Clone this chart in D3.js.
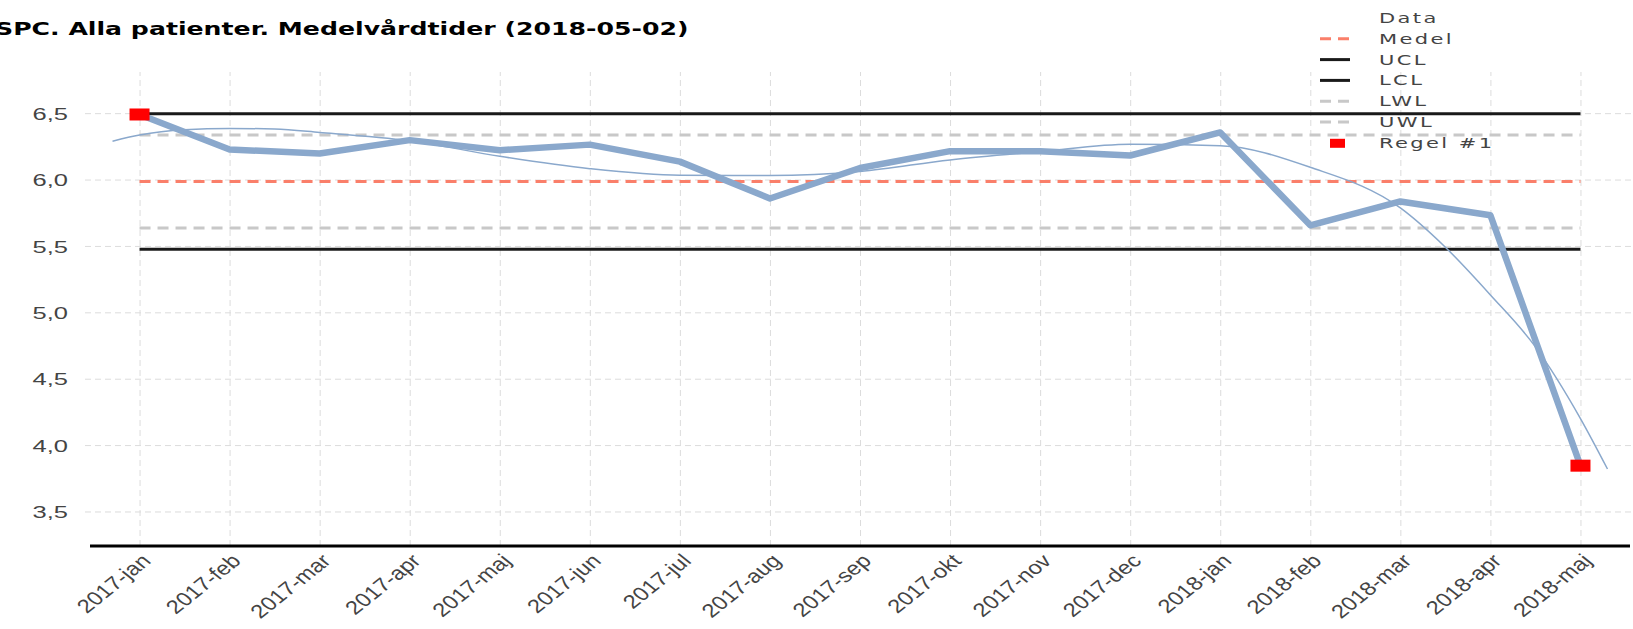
<!DOCTYPE html>
<html>
<head>
<meta charset="utf-8">
<script src="https://cdn.jsdelivr.net/npm/d3@7"></script>
<style>
  body { margin: 0; background: #fff; }
  svg { display: block; font-family: "DejaVu Sans", Verdana, sans-serif; }
</style>
</head>
<body>
<svg id="spc-svg"></svg>
<script>
// data
const months = ["2017-jan", "2017-feb", "2017-mar", "2017-apr", "2017-maj", "2017-jun",
    "2017-jul", "2017-aug", "2017-sep", "2017-okt", "2017-nov", "2017-dec",
    "2018-jan", "2018-feb", "2018-mar", "2018-apr", "2018-maj"];
const values = [6.49, 6.226, 6.196, 6.297, 6.221, 6.263, 6.135, 5.857, 6.087, 6.214,
    6.214, 6.181, 6.355, 5.655, 5.835, 5.731, 3.845];
const rule1 = [1, 0, 0, 0, 0, 0, 0, 0, 0, 0, 0, 0, 0, 0, 0, 0, 1];

// thin trend curve (month index, value)
const trendIdx = [-0.3, 0, 0.5, 1, 1.5, 2, 3, 4, 5, 6, 7, 8, 9, 10, 11, 12, 13, 14, 14.5, 15, 15.5, 16, 16.3];
const trendVals = [6.289, 6.335, 6.375, 6.385, 6.38, 6.355, 6.292, 6.175, 6.082, 6.033, 6.031, 6.061,
    6.148, 6.21, 6.265, 6.255, 6.092, 5.786, 5.49, 5.131, 4.74, 4.2, 3.82];

const medel = 5.985;
const ucl = 6.495;
const lcl = 5.475;
const uwl = 6.335;
const lwl = 5.635;

const yTicks = [3.5, 4.0, 4.5, 5.0, 5.5, 6.0, 6.5];
const legendLabels = ["Data", "Medel", "UCL", "LCL", "LWL", "UWL", "Regel #1"];
const titleText = "SPC. Alla patienter. Medelvårdtider (2018-05-02)";

const width = 1633;
const height = 629;
const K = 1.5;          // horizontal stretch of the text
const lineColor = "#8aa8cc";

const svg = d3.select("#spc-svg").attr("width", width).attr("height", height);

const xScale = d3.scalePoint().domain(months).range([90, 1630]).padding(0.55);
const xIdx = d3.scaleLinear().domain([0, months.length - 1])
    .range([xScale(months[0]), xScale(months[months.length - 1])]);
const yScale = d3.scaleLinear().domain([3.24, 6.81]).range([546, 72]);

const sv = d3.formatLocale({ decimal: ",", thousands: " ", grouping: [3], currency: ["", " kr"] });
const fmt = sv.format(".1f");

// y axis + horizontal grid
const yAxis = svg.append("g")
    .attr("transform", "translate(85,0)")
    .call(d3.axisLeft(yScale).tickValues(yTicks).tickFormat(fmt)
        .tickSize(-(width - 85)).tickSizeOuter(0));
yAxis.select(".domain").remove();
yAxis.selectAll(".tick line")
    .attr("stroke", "#dcdcdc")
    .attr("stroke-dasharray", "6,4");
yAxis.selectAll(".tick text")
    .attr("x", null)
    .attr("dy", "0.36em")
    .attr("transform", "translate(-17,0) scale(" + K + ",1)")
    .attr("font-size", 17)
    .style("fill", "#444");

// x axis + vertical grid
const xAxis = svg.append("g")
    .attr("transform", "translate(0,546)")
    .call(d3.axisBottom(xScale).tickSize(-(546 - 72)).tickSizeOuter(0));
xAxis.selectAll(".tick line")
    .attr("stroke", "#dcdcdc")
    .attr("stroke-dasharray", "6,4");
xAxis.selectAll(".tick text")
    .attr("y", null)
    .attr("dy", null)
    .attr("text-anchor", "end")
    .attr("transform", "translate(12,16) scale(1.25,1) rotate(-45)")
    .attr("font-size", 19)
    .style("fill", "#444");
xAxis.select(".domain").remove();

// control lines
const x0 = xScale(months[0]);
const x1 = xScale(months[months.length - 1]);
const refLines = [
    { v: uwl, color: "#c8c8c8", dash: "11,7" },
    { v: lwl, color: "#c8c8c8", dash: "11,7" },
    { v: medel, color: "#fa7f6a", dash: "11,7" },
    { v: ucl, color: "#1a1a1a", dash: null },
    { v: lcl, color: "#1a1a1a", dash: null }
];
svg.append("g").selectAll("line")
    .data(refLines)
    .enter().append("line")
    .attr("x1", x0)
    .attr("x2", x1)
    .attr("y1", d => yScale(d.v))
    .attr("y2", d => yScale(d.v))
    .attr("stroke", d => d.color)
    .attr("stroke-width", 3)
    .attr("stroke-dasharray", d => d.dash);

// trend curve
const trend = trendIdx.map((t, i) => [t, trendVals[i]]);
svg.append("path")
    .datum(trend)
    .attr("fill", "none")
    .attr("stroke", lineColor)
    .attr("stroke-width", 1.5)
    .attr("d", d3.line().x(d => xIdx(d[0])).y(d => yScale(d[1])).curve(d3.curveMonotoneX));

// data line
svg.append("path")
    .datum(values)
    .attr("fill", "none")
    .attr("stroke", lineColor)
    .attr("stroke-width", 6.5)
    .attr("stroke-linejoin", "round")
    .attr("d", d3.line().x((d, i) => xScale(months[i])).y(d => yScale(d)));

// rule #1 markers
svg.append("g").selectAll("rect")
    .data(values.map((v, i) => ({ m: months[i], v: v, r: rule1[i] })).filter(d => d.r))
    .enter().append("rect")
    .attr("x", d => xScale(d.m) - 10)
    .attr("y", d => yScale(d.v) - 6)
    .attr("width", 20)
    .attr("height", 12)
    .attr("fill", "#ff0000");

// bottom axis line
svg.append("line")
    .attr("x1", 90).attr("x2", 1630)
    .attr("y1", 546).attr("y2", 546)
    .attr("stroke", "#000")
    .attr("stroke-width", 3);

// title
svg.append("text")
    .attr("transform", "translate(-5,35) scale(1.4,1)")
    .style("font-size", "18px")
    .style("font-weight", "bold")
    .style("fill", "#000")
    .text(titleText);

// legend
const legend = svg.append("g");
const rowY = i => 18 + i * 20.8;
const legendRef = { Medel: refLines[2], LWL: refLines[1], UWL: refLines[0], UCL: refLines[3], LCL: refLines[4] };
legendLabels.forEach((lab, i) => {
    const y = rowY(i);
    if (legendRef[lab]) {
        const ref = legendRef[lab];
        legend.append("line")
            .attr("x1", 1320).attr("x2", 1350)
            .attr("y1", y).attr("y2", y)
            .attr("stroke", ref.color)
            .attr("stroke-width", 3)
            .attr("stroke-dasharray", ref.dash);
    } else if (lab === "Regel #1") {
        legend.append("rect")
            .attr("x", 1330).attr("y", y - 4)
            .attr("width", 15).attr("height", 9)
            .attr("fill", "#ff0000");
    }
    legend.append("text")
        .attr("transform", "translate(1379," + y + ") scale(" + K + ",1)")
        .attr("dy", "0.36em")
        .style("font-size", "14px")
        .style("letter-spacing", "1.6px")
        .style("fill", "#444")
        .text(lab);
});
</script>
</body>
</html>
